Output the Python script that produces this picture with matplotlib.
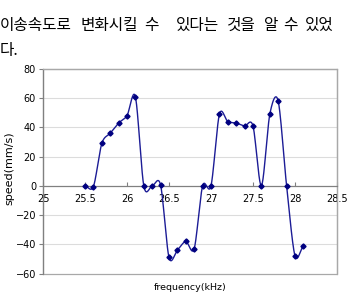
import numpy as np
import matplotlib
matplotlib.use("Agg")
import matplotlib.pyplot as plt
from matplotlib.patches import Rectangle

freq = [25.5, 25.6, 25.7, 25.8, 25.9, 26.0, 26.1, 26.2, 26.3, 26.4,
        26.5, 26.6, 26.7, 26.8, 26.9, 27.0, 27.1, 27.2, 27.3, 27.4,
        27.5, 27.6, 27.7, 27.8, 27.9, 28.0, 28.1]
speed = [0, -0.5, 29, 36, 43, 48, 61, 0, 0, 0.5,
         -49, -44, -38, -43, 0, 0, 49, 44, 43, 41,
         41, 0, 49, 58, 0, -48, -41]
xticks = [25, 25.5, 26, 26.5, 27, 27.5, 28, 28.5]
xticklabels = ["25", "25.5", "26", "26.5", "27", "27.5", "28", "28.5"]
yticks = [-60, -40, -20, 0, 20, 40, 60, 80]
words = ["이송속도로", "변화시킬", "수", "있다는", "것을", "알", "수", "있었"]
word_x = [0, 81, 144, 176, 227, 264, 283, 305]
line2 = "다."
xlabel = "frequency(kHz)"
ylabel = "speed(mm/s)"


def smooth_curve(x, y, n=20, k=1 / 6):
    x = np.asarray(x, float)
    y = np.asarray(y, float)
    px = np.concatenate([[2 * x[0] - x[1]], x, [2 * x[-1] - x[-2]]])
    py = np.concatenate([[y[0]], y, [y[-1]]])
    xs, ys = [], []
    t = np.linspace(0, 1, n, endpoint=False)
    for i in range(1, len(px) - 2):
        p0x, p1x, p2x, p3x = px[i - 1:i + 3]
        p0y, p1y, p2y, p3y = py[i - 1:i + 3]
        c1x = p1x + (p2x - p0x) * k
        c1y = p1y + (p2y - p0y) * k
        c2x = p2x - (p3x - p1x) * k
        c2y = p2y - (p3y - p1y) * k
        bx = (1 - t) ** 3 * p1x + 3 * (1 - t) ** 2 * t * c1x + 3 * (1 - t) * t ** 2 * c2x + t ** 3 * p2x
        by = (1 - t) ** 3 * p1y + 3 * (1 - t) ** 2 * t * c1y + 3 * (1 - t) * t ** 2 * c2y + t ** 3 * p2y
        xs.append(bx)
        ys.append(by)
    xs.append([x[-1]])
    ys.append([y[-1]])
    return np.concatenate(xs), np.concatenate(ys)


plt.rcParams['font.family'] = ['DejaVu Sans']
fig = plt.figure(figsize=(3.5, 2.96), dpi=100)
ax = fig.add_axes([43 / 350, 1 - 273.5 / 296, (337 - 43) / 350, (273.5 - 69) / 296])

ax.set_xlim(25, 28.5)
ax.set_ylim(-60, 80)

for yv in yticks:
    if yv not in (0, -60, 80):
        ax.axhline(yv, color='#dcdcdc', lw=0.8, zorder=0)

sx, sy = smooth_curve(freq, speed, k=0.15)
ax.plot(sx, sy, color='#1c1c96', lw=1.0, zorder=3)
ax.plot(freq, speed, linestyle='none', marker='D', ms=2.6, color='#000080', zorder=4)

ax.spines['bottom'].set_position(('data', 0))
ax.spines['bottom'].set_color('#808080')
ax.spines['left'].set_color('#808080')
ax.spines['top'].set_color('#a8a8a8')
ax.spines['right'].set_color('#a8a8a8')
for s in ax.spines.values():
    s.set_linewidth(0.9)
ax.add_patch(Rectangle((0, 0), 1, 1, transform=ax.transAxes, fill=False,
                       edgecolor='#a8a8a8', lw=0.9, zorder=1, clip_on=False))

ax.set_xticks(xticks)
ax.set_xticklabels(xticklabels)
ax.set_yticks(yticks)
ax.tick_params(axis='x', direction='in', length=3, pad=6, labelsize=7, color='#808080')
ax.tick_params(axis='y', direction='out', length=3, pad=2, labelsize=7, color='#808080')

fig.text(190 / 350, 1 - 287 / 296, xlabel, ha='center', va='center', fontsize=6.8)
fig.text(9 / 350, 1 - 168 / 296, ylabel, ha='center', va='center', rotation=90, fontsize=8)

kfam = ['Noto Sans CJK KR', 'DejaVu Sans']
for w, xp in zip(words, word_x):
    fig.text(xp / 350, 1 - 25.5 / 296, w, ha='left', va='center', fontsize=11.3, family=kfam)
fig.text(0, 1 - 51 / 296, line2, ha='left', va='center', fontsize=11.3, family=kfam)

fig.savefig('out.png', dpi=100)
